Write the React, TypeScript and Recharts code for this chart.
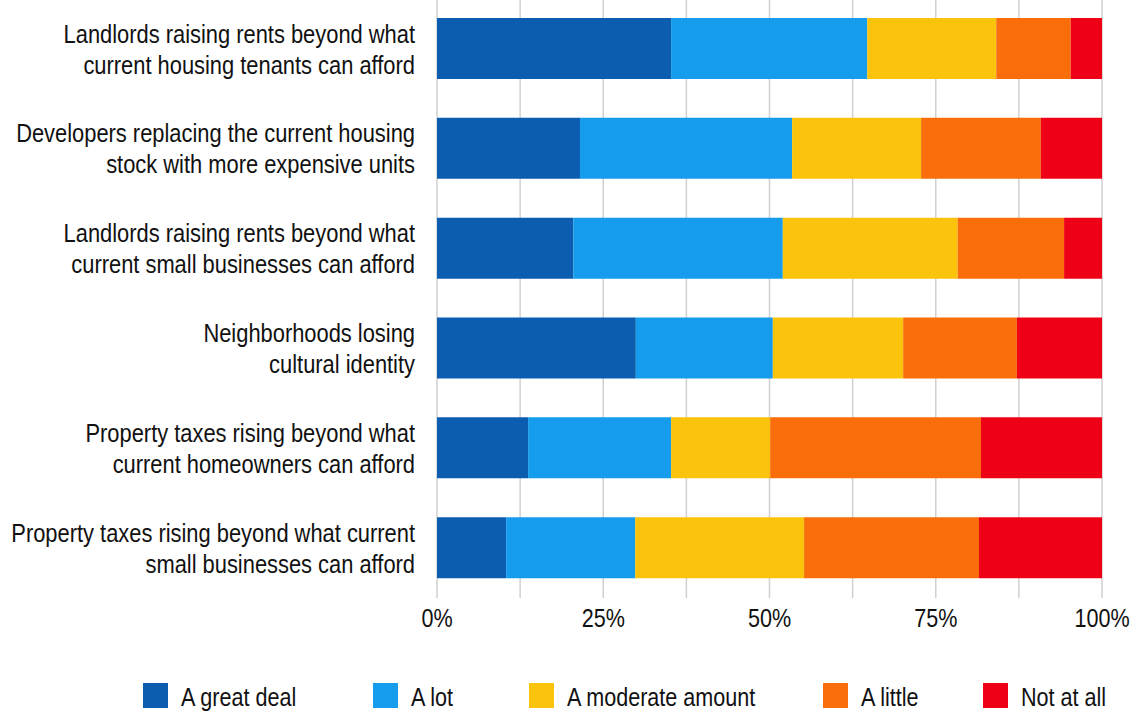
import React from 'react';
import { BarChart, Bar, XAxis, YAxis, CartesianGrid } from 'recharts';

const categories = [
  'Landlords raising rents beyond what\ncurrent housing tenants can afford',
  'Developers replacing the current housing\nstock with more expensive units',
  'Landlords raising rents beyond what\ncurrent small businesses can afford',
  'Neighborhoods losing\ncultural identity',
  'Property taxes rising beyond what\ncurrent homeowners can afford',
  'Property taxes rising beyond what current\nsmall businesses can afford',
];

const greatDeal = [35.2, 21.5, 20.5, 29.9, 13.7, 10.4];
const aLot = [29.5, 31.9, 31.5, 20.6, 21.5, 19.4];
const moderate = [19.4, 19.4, 26.3, 19.6, 14.9, 25.4];
const little = [11.2, 18.0, 16.0, 17.1, 31.7, 26.3];
const notAtAll = [4.7, 9.2, 5.7, 12.8, 18.2, 18.5];

const xTicks = [0, 12.5, 25, 37.5, 50, 62.5, 75, 87.5, 100];

const seriesNames = ['A great deal', 'A lot', 'A moderate amount', 'A little', 'Not at all'];
const seriesKeys = ['greatDeal', 'aLot', 'moderate', 'little', 'notAtAll'];
const colors = ['#0C5DB0', '#169CEC', '#FCC30C', '#F96D0B', '#EE0016'];
const legendLeft = [143, 373, 529, 823, 983];

const data = categories.map((c, i) => ({
  name: c,
  greatDeal: greatDeal[i],
  aLot: aLot[i],
  moderate: moderate[i],
  little: little[i],
  notAtAll: notAtAll[i],
}));

const FONT = '"Liberation Sans", Arial, sans-serif';
const FS = 26;
const SX = 0.83;
const SY_LABEL = 0.842;

const YTick = (props: any) => {
  const { x, y, payload } = props;
  const lines = String(payload.value).split('\n');
  const lh = 31;
  const start = -((lines.length - 1) * lh) / 2;
  return (
    <g transform={`translate(${x},${y}) scale(${SY_LABEL},1)`}>
      <text x={0} y={0} textAnchor="end" fontFamily={FONT} fontSize={FS} fill="#111">
        {lines.map((l, i) => (
          <tspan key={i} x={0} y={start + i * lh} dy="0.35em">{l}</tspan>
        ))}
      </text>
    </g>
  );
};

const XTick = (props: any) => {
  const { x, y, payload } = props;
  const v = payload.value;
  if (v % 25 !== 0) return null;
  return (
    <g transform={`translate(${x},${y}) scale(${SX},1)`}>
      <text x={0} y={0} textAnchor="middle" fontFamily={FONT} fontSize={FS} fill="#111" dy="0.71em">
        {v + '%'}
      </text>
    </g>
  );
};

export default function App() {
  return (
    <div style={{ position: 'absolute', left: 0, top: 0, width: 1136, height: 712, background: '#fff' }}>
      <BarChart
        width={1136}
        height={712}
        data={data}
        layout="vertical"
        margin={{ top: -1, right: 34, bottom: 0, left: 0 }}
        barSize={61}
      >
        <CartesianGrid horizontal={false} stroke="#d0d0d0" strokeWidth={1.5} />
        <XAxis
          type="number"
          domain={[0, 100]}
          ticks={xTicks}
          tick={<XTick />}
          tickLine={false}
          axisLine={false}
          height={114}
          tickMargin={5}
          interval={0}
        />
        <YAxis
          type="category"
          dataKey="name"
          width={437}
          tick={<YTick />}
          tickLine={false}
          axisLine={false}
          tickMargin={16}
          interval={0}
        />
        {seriesKeys.map((k, i) => (
          <Bar key={k} dataKey={k} name={seriesNames[i]} stackId="a" fill={colors[i]} isAnimationActive={false} />
        ))}
      </BarChart>
      {seriesNames.map((n, i) => (
        <div
          key={n}
          style={{
            position: 'absolute',
            left: legendLeft[i],
            top: 683,
            height: 25,
            display: 'flex',
            alignItems: 'center',
            whiteSpace: 'nowrap',
            fontFamily: FONT,
            fontSize: FS,
            color: '#111',
          }}
        >
          <div style={{ width: 25, height: 25, background: colors[i], marginRight: 13, flexShrink: 0 }} />
          <span
            style={{
              display: 'inline-block',
              transform: `scaleX(${SX})`,
              transformOrigin: 'left center',
              position: 'relative',
              top: 2,
            }}
          >
            {n}
          </span>
        </div>
      ))}
    </div>
  );
}
